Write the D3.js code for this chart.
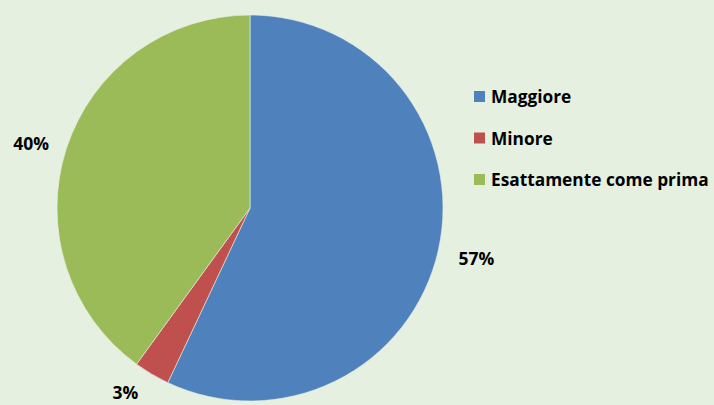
<!DOCTYPE html>
<html><head><meta charset="utf-8">
<script src="https://cdn.jsdelivr.net/npm/d3@7"></script>
<style>
html,body{margin:0;padding:0;background:#e6f0e1;}
svg{display:block;}
text{font-family:"Open Sans",Lato,sans-serif;font-weight:bold;fill:#000;}
</style></head>
<body>
<svg id="c" width="714" height="405"></svg>
<script>
const categories = ["Maggiore", "Minore", "Esattamente come prima"];
const values = [57, 3, 40];
const labels = ["57%", "3%", "40%"];
const colors = ["#4F81BD", "#C0504D", "#9BBB59"];

const svg = d3.select("#c");
const cx = 250, cy = 208, r = 193;
const pie = d3.pie().sort(null).value(d => d)(values);
const arc = d3.arc().innerRadius(0).outerRadius(r);
const g = svg.append("g").attr("transform", `translate(${cx},${cy})`);
g.selectAll("path").data(pie).join("path")
  .attr("d", arc)
  .attr("fill", (d, i) => colors[i])
  .attr("stroke", "#e6f0e1").attr("stroke-width", 0.6);

// labels outside
const labelArc = d3.arc().innerRadius(r + 36).outerRadius(r + 36);
const offsets = [[3, 0], [-8, 0], [-1, 6]];
g.selectAll("text.lbl").data(pie).join("text")
  .attr("class", "lbl")
  .attr("transform", (d, i) => {
    const c = labelArc.centroid(d);
    return `translate(${c[0] + offsets[i][0]},${Math.min(c[1] + offsets[i][1], 184)})`;
  })
  .attr("text-anchor", "middle").attr("dominant-baseline", "central")
  .style("font-size", "17.5px")
  .text((d, i) => labels[i]);

// legend
const lg = svg.append("g").attr("transform", "translate(474,91)");
const items = lg.selectAll("g").data(categories).join("g")
  .attr("transform", (d, i) => `translate(0,${i * 41.5})`);
items.append("rect").attr("width", 11).attr("height", 11).attr("fill", (d, i) => colors[i]);
items.append("text").attr("x", 17).attr("y", 12).style("font-size", "17.3px").text(d => d);
</script>
</body></html>
